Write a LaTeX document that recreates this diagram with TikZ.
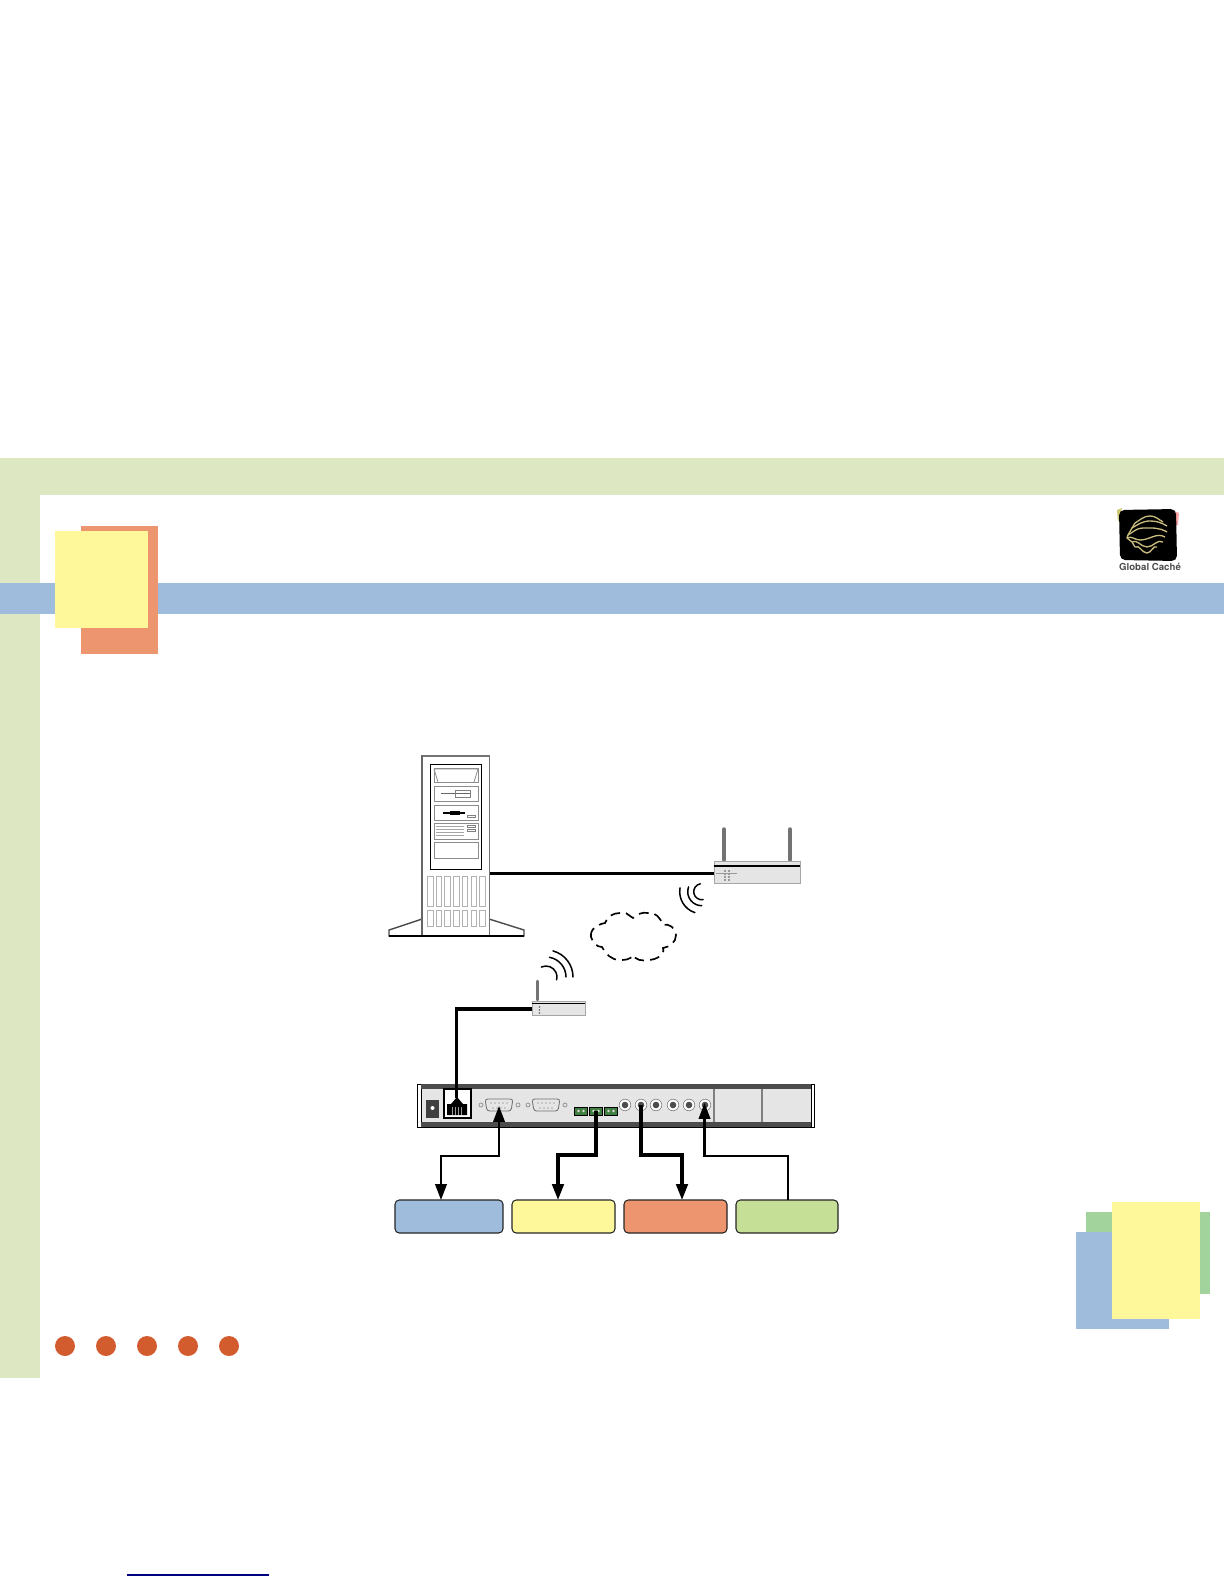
\documentclass[tikz,border=0pt]{standalone}
\usepackage{fontspec}
\setsansfont{TeX Gyre Heros}
\usetikzlibrary{arrows.meta,calc}
\definecolor{bandgreen}{HTML}{DDE7C1}
\definecolor{bandblue}{HTML}{9FBCDD}
\definecolor{noteyellow}{HTML}{FEF89A}
\definecolor{noteorange}{HTML}{EC956F}
\definecolor{notegreen}{HTML}{A2D39C}
\definecolor{boxgreen}{HTML}{C5DF97}
\definecolor{dotorange}{HTML}{D35C2F}
\definecolor{portgreen}{HTML}{3F7F3F}
\definecolor{globegold}{HTML}{C9BC7C}
\tikzset{
	bigtip/.tip={Triangle[length=9pt,width=6.5pt]},
	thinwire/.style={line width=1.25pt, -bigtip},
	fatwire/.style={line width=1.8pt, -bigtip},
	devbox/.style={draw=black!85, line width=.6pt, rounded corners=2.4pt, inner sep=0pt, minimum height=.66cm},
	bay/.style={draw=black!45, line width=.45pt, fill=white},
	slot/.style={draw=black!30, line width=.5pt, fill=white},
	radio/.style={line width=.85pt, line cap=round},
	antenna/.style={line width=2pt, draw=black!55, line cap=round},
	globeline/.style={globegold, line width=.75pt},
}
\begin{document}
\begin{tikzpicture}[x=.02cm,y=-.02cm]
	\useasboundingbox (0,0) rectangle (1224,1584);
	\fill[white] (0,0) rectangle (1224,1584);
	\fill[bandgreen] (0,458) rectangle (1224,495);
	\fill[bandgreen] (0,458) rectangle (40,1378);
	\fill[bandblue] (0,583) rectangle (1224,614);
	\fill[noteorange] (81,526) rectangle (158,654);
	\fill[noteyellow] (55,531) rectangle (148,628);
	\fill[notegreen] (1086,1212) rectangle (1210,1294);
	\fill[bandblue] (1076,1232) rectangle (1169,1329);
	\fill[noteyellow] (1112,1202) rectangle (1200,1319);
	\foreach \x in {65,106,147,188,229}
		\fill[dotorange] (\x,1346) circle (10);
	\draw[blue!50!black, line width=.7pt] (127,1575) -- (269,1575);

	\fill[red!35] (1174,511) -- (1179,513) -- (1178,525) -- (1175,525) -- cycle;
	\fill[olive!45] (1117,510) -- (1122,508) -- (1118,522) -- cycle;
	\fill[black, rounded corners=3pt] (1119,510) -- (1176,509) -- (1177,561) -- (1120,560) -- cycle;
	\foreach \xa/\ya/\xb/\yb/\xc/\yc in {1135/523/1150/516/1163/522,1132/528/1150/521/1167/526,1128/535/1143/528/1167/532,1127/538/1140/540/1165/537,1132/542/1147/547/1163/542,1135/547/1147/553/1157/547}
		\draw[globeline] (\xa,\ya) to[out=30,in=180] (\xb,\yb) to[out=0,in=150] (\xc,\yc);
	\draw[globeline] (1135,523) -- (1132,528) -- (1128,535) -- (1127,538) -- (1132,542) -- (1135,547);
	\node[font=\sffamily\bfseries, text=black!70, scale=.55, inner sep=0pt] (logotext) at (1150,567) {Global Caché};

	\draw[black!70, line width=.8pt, fill=white] (422,919) -- (389,930) -- (389,936) -- (524,936) -- (524,930) -- (489,919);
	\node[draw=black!55, line width=.7pt, fill=white, minimum width=1.35cm, minimum height=3.6cm, inner sep=0pt] (server) at (455.5,846) {};
	\draw[black!60, line width=1pt] (422,756) -- (422,936);
	\draw[black, line width=.6pt] (389,936) -- (524,936);
	\draw[black, line width=.5pt] (430,764) rectangle (481,869);
	\foreach \ya/\yb in {768/782,786/801,805/820,823/839,842/858}
		\draw[bay] (434,\ya) rectangle (478,\yb);
	\draw[bay] (434,769) -- (438,782) (478,769) -- (474,782) (434,769) -- (478,769);
	\draw[black!60, line width=.5pt] (441,793) -- (471,793);
	\draw[black!50, line width=.5pt] (455,790) rectangle (470,797);
	\draw[black, line width=.7pt] (443,813) -- (465,813);
	\draw[black, line width=2.4pt] (450,813) -- (460,813);
	\draw[black!50, line width=.4pt] (467,815) rectangle (475,817);
	\foreach \y in {826,829,832,835}
		\draw[black!35, line width=.4pt] (436,\y) -- (464,\y);
	\draw[black!50, line width=.4pt] (467,825) rectangle (475,827) (467,829) rectangle (475,831);
	\foreach \i in {0,...,6} {
		\draw[slot] (427.5+8.7*\i,876) rectangle ++(5.5,30);
		\draw[slot] (427.5+8.7*\i,910) rectangle ++(5.5,16);
	}

	\draw[antenna] (724,829) -- (724,860);
	\draw[antenna] (790,829) -- (790,860);
	\node[draw=black!35, line width=.4pt, fill=black!10, minimum width=1.72cm, minimum height=.44cm, inner sep=0pt] (ap) at (757,872) {};
	\draw[black, line width=.6pt] (ap.west |- 0,866) -- (ap.east |- 0,866);
	\foreach \x in {725,729} \foreach \y in {871,874,877,880}
		\fill[black!70] (\x,\y) circle (.9);
	\draw[black!40, line width=.4pt] (716,873.5) -- (737,873.5);

	\draw[antenna, line width=1.4pt] (537.5,981) -- (537.5,1000);
	\node[draw=black!35, line width=.4pt, fill=black!10, minimum width=1.06cm, minimum height=.28cm, inner sep=0pt] (cpe) at (558.5,1008) {};
	\draw[black, line width=.6pt] (cpe.west |- 0,1003.5) -- (cpe.east |- 0,1003.5);
	\foreach \y in {1007,1010,1013} \fill[black!60] (539.5,\y) circle (.8);

	\foreach \r/\a/\b in {11/-115/15,20/-80/0,27/-75/0}
		\draw[radio] (546,977) ++(\a:\r) arc (\a:\b:\r);
	\foreach \r/\a/\b in {8/-100/-280,14/-160/-270,22/-170/-252}
		\draw[radio] (701.7,891.7) ++(\a:\r) arc (\a:\b:\r);

	\draw[black, line width=.95pt, dash pattern=on 5.5pt off 3.5pt]
		(591,937) to[out=100,in=190] (605,923) to[out=70,in=180] (620,913)
		to[out=30,in=150] (633,918) to[out=40,in=170] (648,913)
		to[out=10,in=110] (663,925) to[out=20,in=90] (676,935)
		to[out=-90,in=10] (663,948) to[out=-70,in=0] (648,960)
		to[out=190,in=-60] (633,955) to[out=-120,in=0] (620,960)
		to[out=180,in=-60] (602,947) to[out=180,in=-70] (591,937);

	\fill[white] (417,1084) rectangle (421,1127);
	\draw[black, line width=.5pt] (421,1084) -- (417,1084) -- (417,1127) -- (421,1127);
	\node[draw=black, line width=.5pt, fill=black!10, minimum width=7.8cm, minimum height=.86cm, inner sep=0pt] (device) at (616,1105.5) {};
	\draw[black, line width=.5pt] (811,1084) -- (814,1084) -- (814,1127) -- (811,1127);
	\fill[black!70] (421,1084) rectangle (811,1089);
	\fill[black!70] (421,1122) rectangle (811,1127);
	\draw[black!50, line width=.6pt] (714,1089) -- (714,1122) (762,1089) -- (762,1122);

	\fill[black!75] (426,1100) rectangle (439,1118);
	\fill[white] (432.5,1108) circle (2);
	\node[draw=black, line width=.6pt, fill=white, minimum width=.54cm, minimum height=.58cm, inner sep=0pt] (rjack) at (457.5,1103.5) {};
	\fill[black] (447,1115) -- (447,1104) -- (451,1104) -- (457,1097) -- (463,1104) -- (467,1104) -- (467,1115) -- cycle;
	\foreach \x in {452,455,458,461}
		\draw[black!40, line width=.4pt] (\x,1107) -- (\x,1115);

	\foreach \x/\name in {499/serialA,546/serialB} {
		\draw[black!55, line width=.5pt, rounded corners=1.5pt] (\x-14,1099) -- (\x+14,1099) -- (\x+12,1111) -- (\x-12,1111) -- cycle;
		\coordinate (\name) at (\x,1106);
		\foreach \d in {-8,-4,0,4,8} \fill[black!60] (\x+\d,1103) circle (.6);
		\foreach \d in {-6,-2,2,6} \fill[black!60] (\x+\d,1108) circle (.6);
	}
	\foreach \x in {481,518,528,565}
		\draw[black!45, line width=.4pt] (\x,1105) circle (2);

	\foreach \x in {581,596,611} {
		\node[draw=black, line width=.4pt, fill=portgreen, minimum width=.26cm, minimum height=.16cm, inner sep=0pt] (block\x) at (\x,1111) {};
		\fill[black!15] (\x-2.5,1111) circle (1.3) (\x+2.5,1111) circle (1.3);
	}
	\foreach \x in {625,641,656,673,689,705} {
		\fill[white] (\x,1105) circle (5.8);
		\draw[black!50, line width=.35pt] (\x,1105) circle (5.8);
		\fill[black!70] (\x,1105) circle (3.3);
		\coordinate (jack\x) at (\x,1105);
	}

	\node[devbox, fill=bandblue, minimum width=2.16cm] (boxblue) at (449,1216.5) {};
	\node[devbox, fill=noteyellow, minimum width=2.06cm] (boxyellow) at (563.5,1216.5) {};
	\node[devbox, fill=noteorange, minimum width=2.06cm] (boxorange) at (675.5,1216.5) {};
	\node[devbox, fill=boxgreen, minimum width=2.04cm] (boxleaf) at (787,1216.5) {};
	\coordinate (topblue) at (441,1200);
	\coordinate (topyellow) at (558,1200);
	\coordinate (toporange) at (682,1200);
	\coordinate (topleaf) at (788,1200);
	\coordinate (jackend) at (704.5,1103);
	\coordinate (apport) at (714,873.7);
	\coordinate (rjport) at (456.5,1098);

	\draw[black, line width=1.4pt] (server.east |- apport) -- (apport);
	\draw[black, line width=1.8pt] (cpe.west |- 0,1009) -| (rjport);
	\draw[thinwire, bigtip-bigtip] (topblue) -- ++(0,-44) -| (serialA);
	\draw[fatwire] (block596.center) |- ($(topyellow)+(0,-45)$) -- (topyellow);
	\draw[fatwire] (jack641) |- ($(toporange)+(0,-45)$) -- (toporange);
	\draw[thinwire] (topleaf) -- ++(0,-44) -| (jackend);
\end{tikzpicture}
\end{document}
